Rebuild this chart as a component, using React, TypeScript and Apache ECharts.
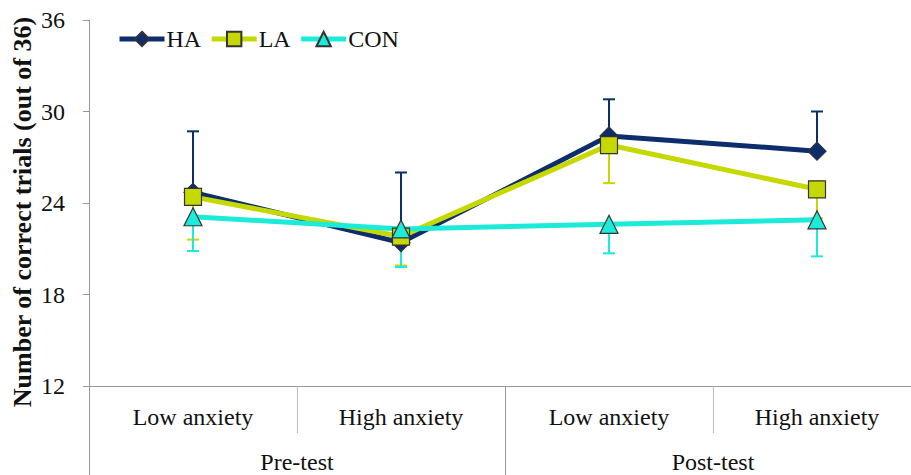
import React, { useEffect, useRef } from "react";
import * as echarts from "echarts";

const categories = ["Low anxiety", "High anxiety", "Low anxiety", "High anxiety"];
const phases = ["Pre-test", "Post-test"];
const yTicks = { min: 12, max: 36, interval: 6 };
const yTitle = "Number of correct trials (out of 36)";

const haValues = [24.7, 21.4, 28.4, 27.4];
const laValues = [24.4, 21.8, 27.8, 24.9];
const conValues = [23.1, 22.3, 22.6, 22.9];

// one-sided error bar end points
const haErrEnd = [28.7, 26.0, 30.8, 30.0];
const laErrEnd = [21.6, 19.9, 25.3, 23.0];
const conErrEnd = [20.85, 19.8, 20.7, 20.5];

const HA_COLOR = "#0D2D6C";
const LA_COLOR = "#C5D900";
const CON_COLOR = "#1DEBD9";
const FONT = "Liberation Serif";

function errSeries(name: string, vals: number[], ends: number[], color: string) {
  return {
    type: "custom",
    name,
    z: 1,
    xAxisIndex: 0,
    yAxisIndex: 0,
    data: vals.map((v, i) => [i, v, ends[i]]),
    renderItem: (params: any, api: any) => {
      const x = api.value(0);
      const a = api.coord([x, api.value(1)]);
      const b = api.coord([x, api.value(2)]);
      const hw = 6;
      return {
        type: "group",
        children: [
          {
            type: "line",
            shape: { x1: a[0], y1: a[1], x2: b[0], y2: b[1] },
            style: { stroke: color, lineWidth: 2 },
          },
          {
            type: "line",
            shape: { x1: b[0] - hw, y1: b[1], x2: b[0] + hw, y2: b[1] },
            style: { stroke: color, lineWidth: 2 },
          },
        ],
      };
    },
  };
}

function lineSeries(name: string, vals: number[], color: string, symbol: string, size: number) {
  return {
    type: "line",
    name,
    z: 3,
    xAxisIndex: 0,
    yAxisIndex: 0,
    data: vals,
    symbol,
    symbolSize: size,
    lineStyle: { color, width: 5 },
    itemStyle: { color, borderColor: "#333333", borderWidth: 1.2 },
    emphasis: { disabled: true },
  };
}

export default function App() {
  const ref = useRef<HTMLDivElement>(null);
  useEffect(() => {
    if (!ref.current) return;
    const chart = echarts.init(ref.current, null, { renderer: "svg" });
    chart.setOption({
      animation: false,
      backgroundColor: "#ffffff",
      grid: { left: 89, top: 20, width: 832, height: 366, containLabel: false },
      legend: {
        data: ["HA", "LA", "CON"],
        left: 117,
        top: 27,
        padding: 0,
        itemWidth: 45,
        itemHeight: 18,
        itemGap: 8,
        lineStyle: { width: 5 },
        textStyle: { fontFamily: FONT, fontSize: 24, color: "#111111", padding: [0, 0, 0, -3] },
      },
      graphic: [
        {
          type: "text",
          x: 22,
          y: 212,
          rotation: Math.PI / 2,
          style: {
            text: yTitle,
            fontFamily: FONT,
            fontSize: 26,
            fontWeight: "bold",
            fill: "#111111",
            align: "center",
            verticalAlign: "middle",
          },
        },
      ],
      xAxis: [
        {
          type: "category",
          data: categories,
          position: "bottom",
          boundaryGap: true,
          axisLine: { show: true, lineStyle: { color: "#999999", width: 1 } },
          axisTick: { show: true, length: 47, lineStyle: { color: "#bbbbbb" } },
          axisLabel: { margin: 19, fontFamily: FONT, fontSize: 24, color: "#111111" },
          splitLine: { show: false },
        },
        {
          type: "category",
          data: phases,
          position: "bottom",
          boundaryGap: true,
          axisLine: { show: false },
          axisTick: { show: true, length: 95, lineStyle: { color: "#999999" } },
          axisLabel: { margin: 64, fontFamily: FONT, fontSize: 24, color: "#111111" },
          splitLine: { show: false },
        },
      ],
      yAxis: {
        type: "value",
        min: yTicks.min,
        max: yTicks.max,
        interval: yTicks.interval,
        axisLine: { show: true, lineStyle: { color: "#999999", width: 1 } },
        axisTick: { show: true, length: 6, lineStyle: { color: "#999999" } },
        axisLabel: { margin: 24, fontFamily: FONT, fontSize: 24, color: "#111111" },
        splitLine: { show: false },
      },
      series: [
        errSeries("HA err", haValues, haErrEnd, HA_COLOR),
        errSeries("LA err", laValues, laErrEnd, LA_COLOR),
        errSeries("CON err", conValues, conErrEnd, CON_COLOR),
        lineSeries("HA", haValues, HA_COLOR, "diamond", 18),
        lineSeries("LA", laValues, LA_COLOR, "rect", 17),
        lineSeries("CON", conValues, CON_COLOR, "triangle", 18),
      ],
    });
    return () => chart.dispose();
  }, []);
  return (
    <div
      style={{
        position: "fixed",
        left: 0,
        top: 0,
        width: 911,
        height: 475,
        overflow: "hidden",
        background: "#ffffff",
      }}
    >
      <div ref={ref} style={{ width: 921, height: 475 }} />
    </div>
  );
}
